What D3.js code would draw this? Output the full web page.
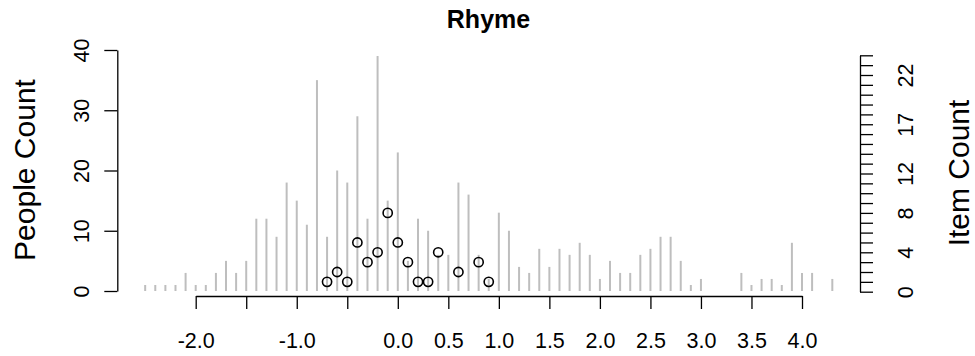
<!DOCTYPE html>
<html>
<head>
<meta charset="utf-8">
<script src="https://cdn.jsdelivr.net/npm/d3@7"></script>
<style>
  html, body { margin: 0; padding: 0; background: #fff; }
  svg { display: block; font-family: "Liberation Sans", Arial, Helvetica, sans-serif; }
</style>
</head>
<body>
<svg id="chart" width="975" height="356"></svg>
<script>
// ---- data ----
const chartTitle = "Rhyme";
const personTheta = [-2.5,-2.4,-2.3,-2.2,-2.1,-2.0,-1.9,-1.8,-1.7,-1.6,
  -1.5,-1.4,-1.3,-1.2,-1.1,-1.0,-0.9,-0.8,-0.7,-0.6,
  -0.5,-0.4,-0.3,-0.2,-0.1,0.0,0.1,0.2,0.3,0.4,
  0.5,0.6,0.7,0.8,0.9,1.0,1.1,1.2,1.3,1.4,
  1.5,1.6,1.7,1.8,1.9,2.0,2.1,2.2,2.3,2.4,
  2.5,2.6,2.7,2.8,2.9,3.0,
  3.4,3.5,3.6,3.7,3.8,3.9,4.0,4.1,
  4.3];
const personCount = [1,1,1,1,3,1,1,3,5,3,
  5,12,12,9,18,15,11,35,9,20,
  18,29,12,39,15,23,5,12,10,6,
  6,18,16,6,2,13,10,4,3,7,
  4,7,6,8,6,2,5,3,3,6,
  7,9,9,5,1,2,
  3,1,2,2,1,8,3,3,
  2];
const itemTheta = [-0.7,-0.6,-0.5,-0.4,-0.3,-0.2,-0.1,0.0,0.1,0.2,0.3,0.4,0.6,0.8,0.9];
const itemCount = [1,2,1,5,3,4,8,5,3,1,1,4,2,3,1];
const xTicks = [-2.0,-1.5,-1.0,-0.5,0.0,0.5,1.0,1.5,2.0,2.5,3.0,3.5,4.0];
const xTickLabels = ["-2.0","","-1.0","","0.0","0.5","1.0","1.5","2.0","2.5","3.0","3.5","4.0"];
const leftTicks = [0,10,20,30,40];
const rightTicks = d3.range(0, 25);
const rightTickLabels = [0,4,8,12,17,22];
const leftTitle = "People Count";
const rightTitle = "Item Count";

// ---- scales ----
const svg = d3.select("#chart");
const x = d3.scaleLinear().domain([-2, 4]).range([195.7, 802]);
const yP = d3.scaleLinear().domain([0, 40]).range([291, 50]);
const yI = d3.scaleLinear().domain([0, 24]).range([291.7, 55.3]);

const tickFont = "21.5px";

// person bars
svg.append("g").selectAll("line").data(personTheta).join("line")
  .attr("x1", d => x(d)).attr("x2", d => x(d))
  .attr("y1", yP(0)).attr("y2", (d, i) => yP(personCount[i]))
  .attr("stroke", "#bebebe").attr("stroke-width", 2);

// item points
svg.append("g").selectAll("circle").data(itemTheta).join("circle")
  .attr("cx", d => x(d)).attr("cy", (d, i) => yI(itemCount[i]))
  .attr("r", 4.6).attr("fill", "none").attr("stroke", "#000").attr("stroke-width", 1.6);

// x axis
const xAxis = svg.append("g").attr("transform", "translate(0,296)")
  .call(d3.axisBottom(x).tickValues(xTicks).tickSize(13).tickSizeOuter(0)
    .tickFormat((d, i) => xTickLabels[i]));
xAxis.select(".domain").attr("stroke", "#000").attr("stroke-width", 1.3);
xAxis.selectAll(".tick line").attr("stroke", "#000").attr("stroke-width", 1.3);
xAxis.selectAll(".tick text").attr("font-size", tickFont).attr("fill", "#000")
  .attr("font-family", "Liberation Sans, Arial, sans-serif")
  .attr("y", 0).attr("dy", 0).attr("transform", "translate(0,52)");

// left axis
const lAxis = svg.append("g").attr("transform", "translate(117.3,0)")
  .call(d3.axisLeft(yP).tickValues(leftTicks).tickSize(13).tickSizeOuter(0).tickFormat(d3.format("d")));
lAxis.select(".domain").attr("stroke", "#000").attr("stroke-width", 1.3);
lAxis.selectAll(".tick line").attr("stroke", "#000").attr("stroke-width", 1.3);
lAxis.selectAll(".tick text").attr("font-size", tickFont).attr("fill", "#000")
  .attr("font-family", "Liberation Sans, Arial, sans-serif")
  .attr("x", 0).attr("dy", 0).attr("text-anchor", "middle")
  .attr("transform", "translate(-28,0) rotate(-90)");

// right axis
const rAxis = svg.append("g").attr("transform", "translate(860,0)")
  .call(d3.axisRight(yI).tickValues(rightTicks).tickSize(13).tickSizeOuter(0)
    .tickFormat(d => rightTickLabels.includes(d) ? String(d) : ""));
rAxis.select(".domain").attr("stroke", "#000").attr("stroke-width", 1.3);
rAxis.selectAll(".tick line").attr("stroke", "#000").attr("stroke-width", 1.3);
rAxis.selectAll(".tick text").attr("font-size", tickFont).attr("fill", "#000")
  .attr("font-family", "Liberation Sans, Arial, sans-serif")
  .attr("x", 0).attr("dy", 0).attr("text-anchor", "middle")
  .attr("transform", "translate(52.7,0) rotate(-90)");

// titles
svg.append("text").attr("x", 488.5).attr("y", 28).attr("text-anchor", "middle")
  .attr("font-size", "25px").attr("font-weight", "bold").text(chartTitle);
svg.append("text").attr("transform", "translate(35,170) rotate(-90)")
  .attr("text-anchor", "middle").attr("font-size", "30px").text(leftTitle);
svg.append("text").attr("transform", "translate(969,173) rotate(-90)")
  .attr("text-anchor", "middle").attr("font-size", "30px").text(rightTitle);
</script>
</body>
</html>
